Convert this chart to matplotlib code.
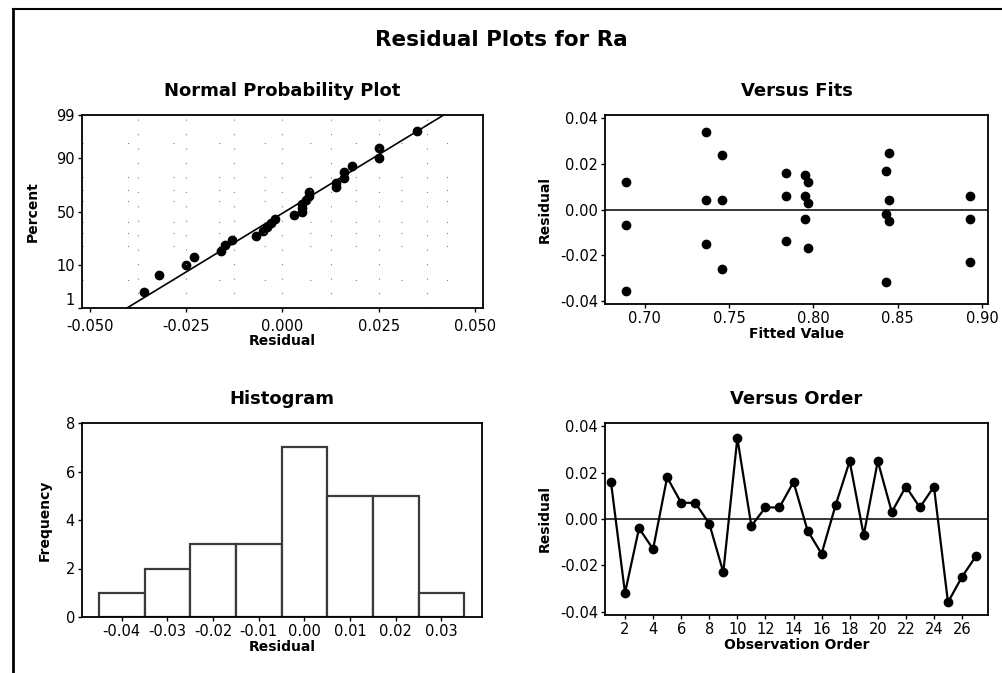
import numpy as np
import matplotlib
matplotlib.use("Agg")
import matplotlib.pyplot as plt
from matplotlib.lines import Line2D
from statistics import NormalDist

# residuals in observation order
order_resid = [0.016, -0.032, -0.004, -0.013, 0.018, 0.007, 0.007, -0.002, -0.023,
               0.035, -0.003, 0.005, 0.005, 0.016, -0.005, -0.015, 0.006, 0.025,
               -0.007, 0.025, 0.003, 0.014, 0.005, 0.014, -0.036, -0.025, -0.016]

# Versus Fits panel
fitted = [0.689, 0.689, 0.689, 0.736, 0.736, 0.736, 0.746, 0.746, 0.746,
          0.784, 0.784, 0.784, 0.795, 0.795, 0.795, 0.797, 0.797, 0.797,
          0.843, 0.843, 0.843, 0.845, 0.845, 0.845, 0.893, 0.893, 0.893]
fit_resid = [0.012, -0.007, -0.036, 0.034, 0.004, -0.015, 0.024, 0.004, -0.026,
             0.016, 0.006, -0.014, 0.015, 0.006, -0.004, 0.012, 0.003, -0.017,
             0.017, -0.002, -0.032, 0.025, 0.004, -0.005, 0.006, -0.004, -0.023]

# Histogram
hist_centers = [-0.04, -0.03, -0.02, -0.01, 0.00, 0.01, 0.02, 0.03]
hist_counts = [1, 2, 3, 3, 7, 5, 5, 1]

prob_ticks = [1, 10, 50, 90, 99]

W, H = 1003, 673
fig = plt.figure(figsize=(W / 100, H / 100), dpi=100)
plt.rcParams["font.family"] = "DejaVu Sans"

def px_axes(l, t, r, b):
    return fig.add_axes([l / W, 1 - b / H, (r - l) / W, (b - t) / H])

def style(ax):
    for s in ax.spines.values():
        s.set_linewidth(1.3)
        s.set_color("black")
    ax.tick_params(direction="out", length=3, width=1, labelsize=10.5, pad=2)

fig.text(0.5, 1 - 40 / H, "Residual Plots for Ra", ha="center", va="center",
         fontsize=15.5, fontweight="bold")

nd = NormalDist()

# --- Normal probability plot
ax1 = px_axes(82, 115, 483, 308)
style(ax1)
r = np.sort(np.array(order_resid))
n = len(r)
pct = (np.arange(1, n + 1) - 0.3) / (n + 0.4)
z = np.array([nd.inv_cdf(p) for p in pct])
zlim = nd.inv_cdf(0.99)
ax1.set_xlim(-0.0521, 0.0521)
ax1.set_ylim(-zlim, zlim)
mu, sd = r.mean(), r.std(ddof=1)
zz = np.linspace(-3, 3, 50)
ax1.plot(mu + sd * zz, zz, color="black", lw=1.2)
ax1.plot(r, z, "o", color="black", ms=6)
ax1.set_xticks([-0.05, -0.025, 0, 0.025, 0.05])
ax1.set_xticklabels(["-0.050", "-0.025", "0.000", "0.025", "0.050"])
ax1.set_yticks([nd.inv_cdf(p / 100) for p in prob_ticks])
ax1.set_yticklabels([str(p) for p in prob_ticks])
ax1.tick_params(axis="x", pad=5)
ax1.get_yticklabels()[0].set_va("bottom")
for gx in np.arange(-0.0375, 0.05, 0.0125):
    ax1.axvline(gx, color="gray", lw=0.8, ls=(0, (1, 12)))
for gp in [5, 20, 30, 40, 60, 70, 80, 95]:
    ax1.axhline(nd.inv_cdf(gp / 100), color="gray", lw=0.8, ls=(0, (1, 40)))
ax1.set_title("Normal Probability Plot", fontsize=13, fontweight="bold", pad=14)
ax1.set_xlabel("Residual", fontsize=10, fontweight="bold", labelpad=0)
ax1.set_ylabel("Percent", fontsize=10, fontweight="bold", labelpad=12)

# --- Versus fits
ax2 = px_axes(605, 115, 988, 304)
style(ax2)
ax2.plot(fitted, fit_resid, "o", color="black", ms=6)
ax2.axhline(0, color="black", lw=1.1)
ax2.set_xlim(0.6763, 0.9036)
ax2.set_ylim(-0.0415, 0.0415)
ax2.set_xticks([0.70, 0.75, 0.80, 0.85, 0.90])
ax2.set_xticklabels(["0.70", "0.75", "0.80", "0.85", "0.90"])
ax2.set_yticks([-0.04, -0.02, 0, 0.02, 0.04])
ax2.set_yticklabels(["-0.04", "-0.02", "0.00", "0.02", "0.04"])
ax2.set_title("Versus Fits", fontsize=13, fontweight="bold", pad=14)
ax2.set_xlabel("Fitted Value", fontsize=10, fontweight="bold", labelpad=1)
ax2.set_ylabel("Residual", fontsize=10, fontweight="bold", labelpad=6)

# --- Histogram
ax3 = px_axes(82, 423, 482, 617)
style(ax3)
ax3.bar(hist_centers, hist_counts, width=0.01, color="white", edgecolor="#3a3a3a", lw=1.6)
ax3.set_xlim(-0.0487, 0.0389)
ax3.set_ylim(0, 8)
ax3.set_xticks(hist_centers)
ax3.set_xticklabels([f"{c:.2f}" for c in hist_centers])
ax3.set_yticks([0, 2, 4, 6, 8])
ax3.set_title("Histogram", fontsize=13, fontweight="bold", pad=14)
ax3.set_xlabel("Residual", fontsize=10, fontweight="bold", labelpad=1)
ax3.set_ylabel("Frequency", fontsize=10, fontweight="bold", labelpad=10)

# --- Versus order
ax4 = px_axes(605, 423, 988, 615)
style(ax4)
obs = np.arange(1, len(order_resid) + 1)
ax4.plot(obs, order_resid, "-o", color="black", ms=6, lw=1.6)
ax4.axhline(0, color="black", lw=1.1)
ax4.set_xlim(0.576, 27.85)
ax4.set_ylim(-0.0415, 0.0415)
ax4.set_xticks(np.arange(2, 27, 2))
ax4.set_yticks([-0.04, -0.02, 0, 0.02, 0.04])
ax4.set_yticklabels(["-0.04", "-0.02", "0.00", "0.02", "0.04"])
ax4.set_title("Versus Order", fontsize=13, fontweight="bold", pad=14)
ax4.set_xlabel("Observation Order", fontsize=10, fontweight="bold", labelpad=1)
ax4.set_ylabel("Residual", fontsize=10, fontweight="bold", labelpad=6)

# page frame
fig.add_artist(Line2D([13 / W, 1], [1 - 9 / H, 1 - 9 / H], color="black", lw=1.5))
fig.add_artist(Line2D([13 / W, 13 / W], [1 - 9 / H, 0], color="black", lw=2))

fig.savefig("out.png", dpi=100)
